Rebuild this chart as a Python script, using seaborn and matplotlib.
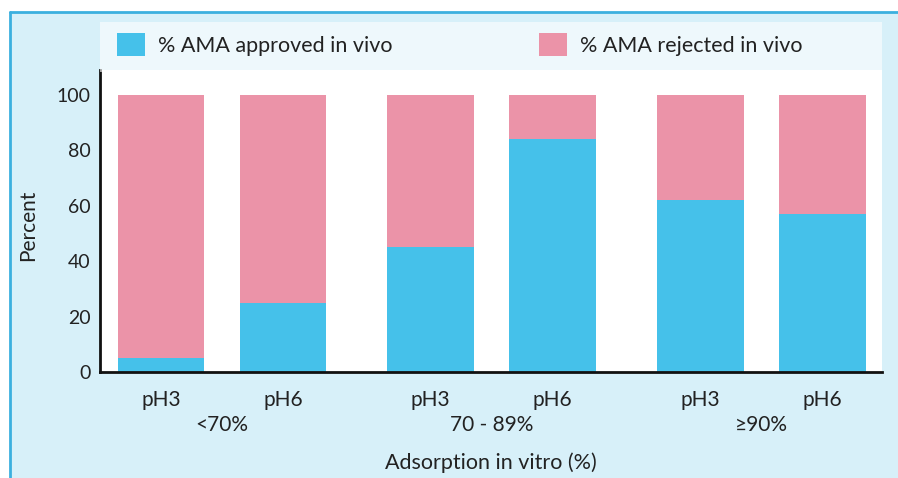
import numpy as np
import pandas as pd
import seaborn as sns
import matplotlib
matplotlib.use("Agg")
import matplotlib.pyplot as plt
from matplotlib.patches import Patch, Rectangle
from matplotlib.lines import Line2D
import matplotlib.transforms as mtransforms

# ---- data ----
groups = ["<70%", "70 - 89%", "\u226590%"]
ph_labels = ["pH3", "pH6", "pH3", "pH6", "pH3", "pH6"]
approved = [5, 25, 45, 84, 62, 57]
rejected = [95, 75, 55, 16, 38, 43]
positions = [0, 1, 2.21, 3.21, 4.42, 5.42]
series_names = ["% AMA approved in vivo", "% AMA rejected in vivo"]

BLUE = "#45c1ea"
PINK = "#eb93a8"
BG = "#d7f0f9"
EDGE = "#3bb0df"
TXT = "#222222"

df = pd.DataFrame({
    "pos": positions,
    "approved": approved,
    "total": np.add(approved, rejected),
})

sns.set_theme(style="white")
plt.rcParams['font.family'] = ['Lato', 'DejaVu Sans']

W, H = 898, 478
fig = plt.figure(figsize=(W / 100, H / 100), dpi=100, facecolor="white")

# background panel with blue border on top and left
fig.add_artist(Rectangle((10 / W, 0), 1 - 10 / W, 1 - 12 / H, transform=fig.transFigure,
                         facecolor=BG, edgecolor="none", zorder=0))
fig.add_artist(Line2D([10 / W, 1], [1 - 12 / H, 1 - 12 / H], transform=fig.transFigure,
                      color=EDGE, lw=2, zorder=1))
fig.add_artist(Line2D([10 / W, 10 / W], [0, 1 - 12 / H], transform=fig.transFigure,
                      color=EDGE, lw=2, zorder=1))
# whitish legend band
fig.add_artist(Rectangle((100 / W, 1 - 72 / H), 782 / W, 50 / H, transform=fig.transFigure,
                         facecolor="white", edgecolor="none", zorder=0.5, alpha=0.6))

ax = fig.add_axes([100 / W, 1 - 372 / H, 782 / W, 302 / H])
ax.set_facecolor("white")

sns.barplot(data=df, x="pos", y="total", native_scale=True, width=0.71,
            color=PINK, saturation=1, errorbar=None, linewidth=0, ax=ax)
sns.barplot(data=df, x="pos", y="approved", native_scale=True, width=0.71,
            color=BLUE, saturation=1, errorbar=None, linewidth=0, ax=ax)

ax.set_xlim(-0.5, 5.91)
ax.set_ylim(0, 109)
ax.set_yticks([0, 20, 40, 60, 80, 100])
ax.set_xticks(positions, ph_labels)
ax.tick_params(axis="both", length=0, colors=TXT)
ax.tick_params(axis="x", pad=13, labelsize=15)
ax.tick_params(axis="y", pad=7, labelsize=14)

for s in ["top", "right"]:
    ax.spines[s].set_visible(False)
for s in ["left", "bottom"]:
    ax.spines[s].set_color("#111111")
    ax.spines[s].set_linewidth(2)

trans = mtransforms.blended_transform_factory(ax.transData, ax.transAxes)
for i, g in enumerate(groups):
    xc = (positions[2 * i] + positions[2 * i + 1]) / 2
    ax.text(xc, -(425 - 372) / 302, g, transform=trans, ha="center", va="center",
            fontsize=15, color=TXT)

ax.set_xlabel("Adsorption in vitro (%)", fontsize=15.5, color=TXT)
ax.xaxis.set_label_coords(0.5, -(452 - 372) / 302)
ax.set_ylabel("Percent", fontsize=15, color=TXT)
ax.yaxis.set_label_coords((38 - 100) / 782, (372 - 225) / 302)

handles = [Patch(facecolor=BLUE, edgecolor="none"), Patch(facecolor=PINK, edgecolor="none")]
fig.legend(handles, series_names, loc="upper left",
           bbox_to_anchor=(117 / W, 1 - 33 / H), ncol=2, frameon=False,
           fontsize=15.5, handlelength=1.3, handleheight=1.3, handletextpad=0.6,
           columnspacing=6.8, borderpad=0, borderaxespad=0, labelcolor=TXT)

fig.savefig("out.png", dpi=100, facecolor=fig.get_facecolor())
